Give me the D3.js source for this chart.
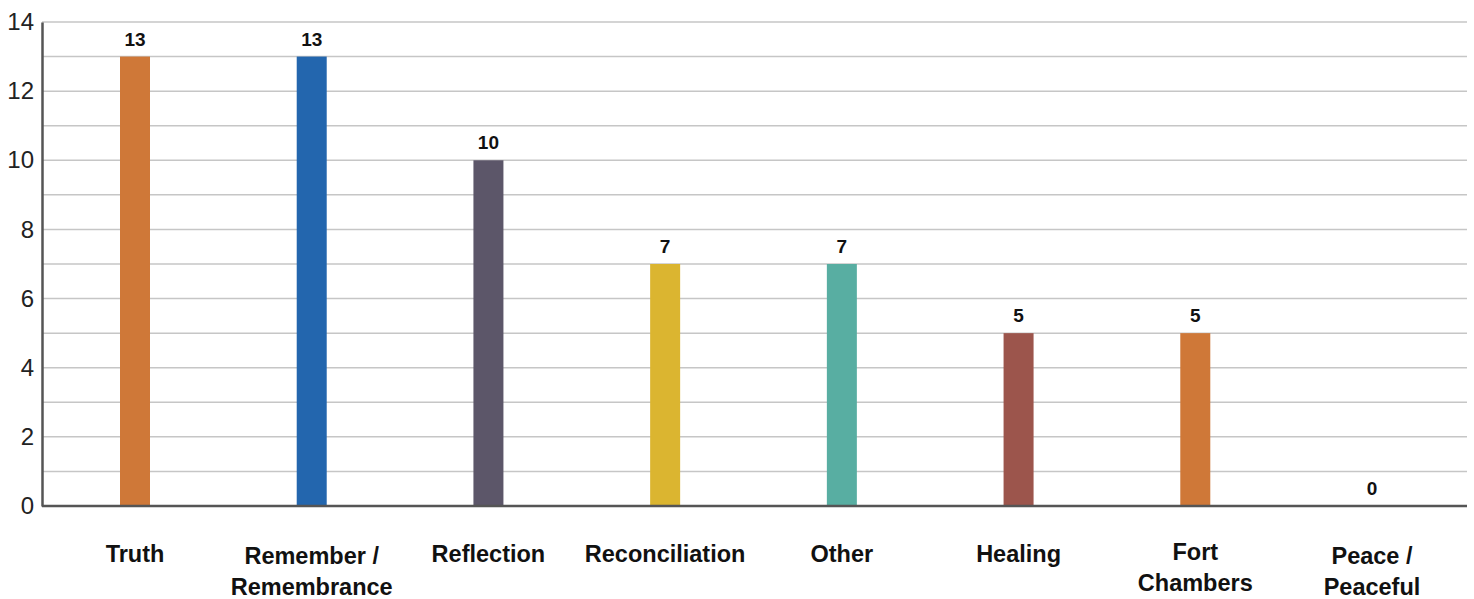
<!DOCTYPE html>
<html>
<head>
<meta charset="utf-8">
<script src="https://cdn.jsdelivr.net/npm/d3@7"></script>
<style>
  html, body { margin: 0; padding: 0; background: #fff; }
  svg { display: block; }
</style>
</head>
<body>
<div id="chart"></div>
<script>
'use strict';

const categories = ['Truth', 'Remember / Remembrance', 'Reflection', 'Reconciliation',
  'Other', 'Healing', 'Fort Chambers', 'Peace / Peaceful'];
const labelLines = [['Truth'], ['Remember /', 'Remembrance'], ['Reflection'], ['Reconciliation'],
  ['Other'], ['Healing'], ['Fort', 'Chambers'], ['Peace /', 'Peaceful']];
const values = [13, 13, 10, 7, 7, 5, 5, 0];
const colors = ['#cf7838', '#2366ae', '#5c5669', '#dbb530', '#58aea2', '#9c554c', '#cf7838', '#cf7838'];
const yTicks = [0, 2, 4, 6, 8, 10, 12, 14];

const width = 1474;
const height = 599;
const margin = {top: 22, right: 7, bottom: 93, left: 42};
const font = "'Liberation Sans', Arial, sans-serif";

const svg = d3.select('#chart')
  .append('svg')
    .attr('width', width)
    .attr('height', height);

const x = d3.scalePoint()
  .domain(categories)
  .range([135, 1372]);

const y = d3.scaleLinear()
  .domain([0, 14])
  .range([height - margin.bottom, margin.top]);

// gridlines every unit
svg.append('g')
  .selectAll('line')
    .data(d3.range(1, 15))
    .enter()
      .append('line')
        .attr('x1', margin.left)
        .attr('x2', width - margin.right)
        .attr('y1', d => y(d))
        .attr('y2', d => y(d))
        .attr('stroke', '#c6c6c6')
        .attr('stroke-width', 1.5);

const barW = 30;
svg.append('g')
  .selectAll('rect')
    .data(values)
    .enter()
      .append('rect')
        .attr('x', (d, i) => x(categories[i]) - barW / 2)
        .attr('y', d => y(d))
        .attr('width', barW)
        .attr('height', d => y(0) - y(d))
        .attr('fill', (d, i) => colors[i]);

// value labels
svg.append('g')
  .selectAll('text')
    .data(values)
    .enter()
      .append('text')
        .attr('x', (d, i) => x(categories[i]))
        .attr('y', d => y(d) - 11)
        .attr('text-anchor', 'middle')
        .attr('font-family', font)
        .attr('font-weight', 'bold')
        .attr('font-size', 19)
        .attr('fill', '#111')
        .text(d => d);

// y axis
const yAxis = svg.append('g')
  .attr('transform', `translate(${margin.left},0)`)
  .call(d3.axisLeft(y).tickValues(yTicks).tickSize(0).tickPadding(8));
yAxis.select('.domain').attr('stroke', '#555').attr('stroke-width', 2.5);
yAxis.selectAll('text')
  .attr('font-family', font)
  .attr('font-size', 24)
  .attr('fill', '#222');

// x axis
const xAxis = svg.append('g')
  .attr('transform', `translate(0,${y(0)})`)
  .call(d3.axisBottom(x).tickSize(0).tickFormat(''));
xAxis.select('.domain')
  .attr('d', `M${margin.left},0H${width - margin.right}`)
  .attr('stroke', '#555')
  .attr('stroke-width', 2.5);

const catLabels = svg.append('g')
  .selectAll('text')
    .data(categories)
    .enter()
      .append('text')
        .attr('text-anchor', 'middle')
        .attr('font-family', font)
        .attr('font-weight', 'bold')
        .attr('font-size', 23.5)
        .attr('fill', '#111');

catLabels.each(function(d, i) {
  const lines = labelLines[i];
  const t = d3.select(this);
  const base = lines.length === 1 ? 562 : (i === 6 ? 560 : 564);
  lines.forEach((ln, j) => {
    t.append('tspan')
      .attr('x', x(d))
      .attr('y', base + j * 31)
      .text(ln);
  });
});
</script>
</body>
</html>
